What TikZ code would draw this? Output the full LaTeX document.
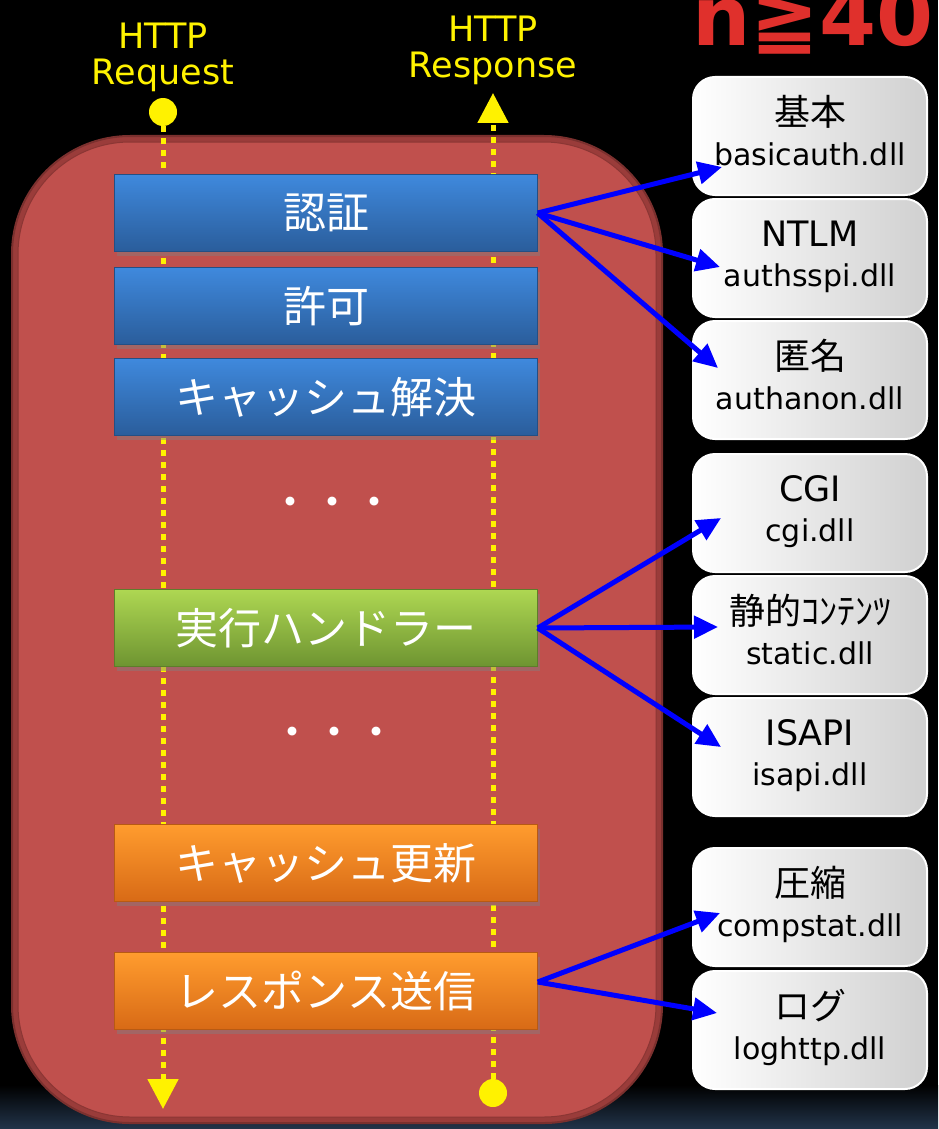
\documentclass[tikz,border=0pt]{standalone}
\usepackage{fontspec}
\setmainfont{DejaVu Sans}
\newfontfamily\jp{Noto Sans CJK JP}
\usetikzlibrary{arrows.meta,shadows}

\definecolor{panelred}{HTML}{C0504D}
\definecolor{paneledge}{HTML}{9A3C3A}
\definecolor{blueA}{HTML}{3F89DD}
\definecolor{blueB}{HTML}{2A5D9B}
\definecolor{greenA}{HTML}{AED752}
\definecolor{greenB}{HTML}{6E9431}
\definecolor{orangeA}{HTML}{FF9C2E}
\definecolor{orangeB}{HTML}{D86A16}
\definecolor{dllgray}{HTML}{D0D0D0}
\definecolor{titlered}{HTML}{E0302C}
\definecolor{bgblue}{HTML}{22344A}

\begin{document}
\begin{tikzpicture}[x=1pt,y=-1pt,
    proc/.style={rectangle,minimum width=423pt,minimum height=77pt,inner sep=0pt,text=white,
      font=\jp\fontsize{43}{46}\selectfont,
      drop shadow={shadow xshift=2pt,shadow yshift=-4pt,opacity=.45}},
    blue proc/.style={proc,top color=blueA,bottom color=blueB,draw=blueB!85!black},
    green proc/.style={proc,top color=greenA,bottom color=greenB,draw=greenB!85!black},
    orange proc/.style={proc,top color=orangeA,bottom color=orangeB,draw=orangeB!85!black},
    dll/.style={rectangle,rounded corners=22pt,minimum width=234pt,minimum height=118pt,
      left color=white,right color=dllgray,draw=white,line width=2pt,align=center,
      font=\fontsize{30}{40}\selectfont},
    port/.style={circle,fill=yellow,minimum size=28pt,inner sep=0pt},
    flow/.style={draw=yellow,line width=5pt,dash pattern=on 6pt off 6pt,
      -{Triangle[width=30pt,length=30pt]}},
    link/.style={draw=blue,line width=5pt,-{Triangle[width=22pt,length=24pt]}},
    http text/.style={text=yellow,align=center,inner sep=0pt,font=\fontsize{35}{36}\selectfont},
    dots/.style={text=white,inner sep=0pt,font=\jp\fontsize{42}{42}\selectfont},
    title/.style={anchor=base west,inner sep=0pt,font=\bfseries\fontsize{82}{82}\selectfont}]

% background
\fill[black] (0,0) rectangle (938,1129);
\shade[top color=black,bottom color=bgblue] (0,1085) rectangle (938,1129);
\useasboundingbox (0,0) rectangle (938,1129);

% title (cut off)
\node[title,text=titlered] (title) at (692,46) {n≧40};

% pipeline panel
\filldraw[fill=paneledge,draw=paneledge!80!black,line width=2pt,rounded corners=118pt]
  (12,136) rectangle (662,1123);
\filldraw[fill=panelred,draw=paneledge!90!black,line width=1pt,rounded corners=112pt]
  (18,142) rectangle (656,1117);

% request / response
\node[http text] (reqLabel) at (163,57) {HTTP\\Request};
\node[http text] (respLabel) at (493,50) {HTTP\\Response};
\node[port] (reqIn) at (163,112) {};
\node[port] (respIn) at (493,1093) {};
\coordinate (reqEnd) at (163,1109);
\coordinate (respEnd) at (493,93);
\draw[flow] (reqIn) -- (reqEnd);
\draw[flow] (respIn) -- (respEnd);

% stages
\node[blue proc] (auth) at (326,213) {認証};
\node[blue proc] (authz) at (326,306) {許可};
\node[blue proc] (cacheRes) at (326,397) {キャッシュ解決};
\node[dots] (dotsA) at (332,507) {・・・};
\node[green proc] (handler) at (326,628) {実行ハンドラー};
\node[dots] (dotsB) at (334,737) {・・・};
\node[orange proc] (cacheUpd) at (326,863) {キャッシュ更新};
\node[orange proc] (send) at (326,991) {レスポンス送信};

% modules
\node[dll] (basic) at (810,136) {\strut{\jp\fontsize{36}{40}\selectfont 基本}\\\strut basicauth.dll};
\node[dll] (ntlm) at (810,258) {\strut{\fontsize{35}{40}\selectfont NTLM}\\\strut authsspi.dll};
\node[dll] (anon) at (810,380) {\strut{\jp\fontsize{36}{40}\selectfont 匿名}\\\strut authanon.dll};
\node[dll] (cgi) at (810,513) {\strut{\fontsize{35}{40}\selectfont CGI}\\\strut cgi.dll};
\node[dll] (static) at (810,635) {\strut{\jp\fontsize{36}{40}\selectfont 静的ｺﾝﾃﾝﾂ}\\\strut static.dll};
\node[dll] (isapi) at (810,757) {\strut{\fontsize{35}{40}\selectfont ISAPI}\\\strut isapi.dll};
\node[dll] (comp) at (810,907) {\strut{\jp\fontsize{36}{40}\selectfont 圧縮}\\\strut compstat.dll};
\node[dll] (log) at (810,1030) {\strut{\jp\fontsize{36}{40}\selectfont ログ}\\\strut loghttp.dll};

\path
  (auth.east) edge[link] ([shift={(30,31)}]basic.west)
  (auth.east) edge[link] ([shift={(28,9)}]ntlm.west)
  (auth.east) edge[link] ([shift={(26,-12)}]anon.west)
  (handler.east) edge[link] ([shift={(29,5)}]cgi.west)
  (handler.east) edge[link] ([shift={(26,-8)}]static.west)
  (handler.east) edge[link] ([shift={(29,-10)}]isapi.west)
  ([yshift=9pt]send.east) edge[link] ([shift={(28,6)}]comp.west)
  ([yshift=9pt]send.east) edge[link] ([shift={(25,-17)}]log.west);
\end{tikzpicture}
\end{document}
